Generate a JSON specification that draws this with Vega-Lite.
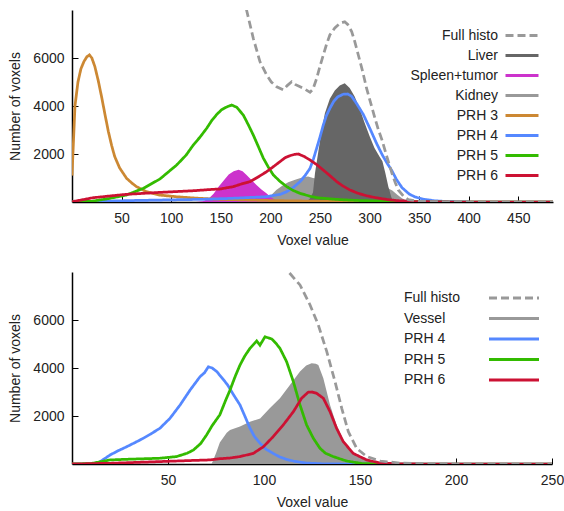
{
  "$schema": "https://vega.github.io/schema/vega-lite/v6.json",
  "padding": {"left": 8, "top": 10, "right": 5, "bottom": 5},
  "spacing": 25,
  "datasets": {
    "top": [
      {"s":"Kidney","x":190,"y":0},{"s":"Kidney","x":196,"y":100},{"s":"Kidney","x":200,"y":250},{"s":"Kidney","x":206,"y":500},{"s":"Kidney","x":212,"y":680},{"s":"Kidney","x":218,"y":820},{"s":"Kidney","x":225,"y":930},{"s":"Kidney","x":232,"y":1020},{"s":"Kidney","x":238,"y":1060},{"s":"Kidney","x":243,"y":1000},{"s":"Kidney","x":250,"y":950},{"s":"Kidney","x":260,"y":900},{"s":"Kidney","x":270,"y":850},{"s":"Kidney","x":280,"y":800},{"s":"Kidney","x":290,"y":750},{"s":"Kidney","x":300,"y":700},{"s":"Kidney","x":310,"y":640},{"s":"Kidney","x":318,"y":580},{"s":"Kidney","x":323,"y":480},{"s":"Kidney","x":328,"y":300},{"s":"Kidney","x":333,"y":150},{"s":"Kidney","x":340,"y":30},{"s":"Kidney","x":345,"y":0},
      {"s":"Spleen+tumor","x":125,"y":0},{"s":"Spleen+tumor","x":132,"y":30},{"s":"Spleen+tumor","x":138,"y":150},{"s":"Spleen+tumor","x":143,"y":350},{"s":"Spleen+tumor","x":148,"y":650},{"s":"Spleen+tumor","x":153,"y":900},{"s":"Spleen+tumor","x":158,"y":1150},{"s":"Spleen+tumor","x":163,"y":1280},{"s":"Spleen+tumor","x":168,"y":1340},{"s":"Spleen+tumor","x":172,"y":1280},{"s":"Spleen+tumor","x":176,"y":1130},{"s":"Spleen+tumor","x":181,"y":920},{"s":"Spleen+tumor","x":186,"y":710},{"s":"Spleen+tumor","x":191,"y":520},{"s":"Spleen+tumor","x":196,"y":360},{"s":"Spleen+tumor","x":201,"y":190},{"s":"Spleen+tumor","x":206,"y":60},{"s":"Spleen+tumor","x":210,"y":0},
      {"s":"Liver","x":236,"y":0},{"s":"Liver","x":240,"y":150},{"s":"Liver","x":243,"y":400},{"s":"Liver","x":245,"y":1200},{"s":"Liver","x":248,"y":2000},{"s":"Liver","x":251,"y":2800},{"s":"Liver","x":255,"y":3700},{"s":"Liver","x":260,"y":4300},{"s":"Liver","x":265,"y":4650},{"s":"Liver","x":270,"y":4850},{"s":"Liver","x":275,"y":4950},{"s":"Liver","x":280,"y":4750},{"s":"Liver","x":285,"y":4400},{"s":"Liver","x":290,"y":3900},{"s":"Liver","x":295,"y":3300},{"s":"Liver","x":300,"y":2750},{"s":"Liver","x":305,"y":2250},{"s":"Liver","x":310,"y":1900},{"s":"Liver","x":313,"y":1700},{"s":"Liver","x":316,"y":1200},{"s":"Liver","x":319,"y":640},{"s":"Liver","x":322,"y":200},{"s":"Liver","x":324,"y":0},
      {"s":"PRH 3","x":0,"y":1100},{"s":"PRH 3","x":3,"y":4000},{"s":"PRH 3","x":6,"y":5000},{"s":"PRH 3","x":9,"y":5550},{"s":"PRH 3","x":12,"y":5850},{"s":"PRH 3","x":15,"y":6050},{"s":"PRH 3","x":17.5,"y":6130},{"s":"PRH 3","x":20,"y":6000},{"s":"PRH 3","x":23,"y":5650},{"s":"PRH 3","x":26.5,"y":5050},{"s":"PRH 3","x":30,"y":4350},{"s":"PRH 3","x":33,"y":3700},{"s":"PRH 3","x":36.6,"y":2950},{"s":"PRH 3","x":40,"y":2350},{"s":"PRH 3","x":43,"y":1900},{"s":"PRH 3","x":48,"y":1420},{"s":"PRH 3","x":55,"y":990},{"s":"PRH 3","x":60,"y":800},{"s":"PRH 3","x":65,"y":640},{"s":"PRH 3","x":75,"y":430},{"s":"PRH 3","x":88,"y":290},{"s":"PRH 3","x":105,"y":220},{"s":"PRH 3","x":125,"y":160},{"s":"PRH 3","x":150,"y":110},{"s":"PRH 3","x":200,"y":60},{"s":"PRH 3","x":270,"y":20},{"s":"PRH 3","x":300,"y":0},{"s":"PRH 3","x":485,"y":0},
      {"s":"PRH 4","x":0,"y":0},{"s":"PRH 4","x":30,"y":30},{"s":"PRH 4","x":60,"y":60},{"s":"PRH 4","x":100,"y":90},{"s":"PRH 4","x":130,"y":110},{"s":"PRH 4","x":160,"y":150},{"s":"PRH 4","x":196,"y":220},{"s":"PRH 4","x":210,"y":320},{"s":"PRH 4","x":216.5,"y":430},{"s":"PRH 4","x":223,"y":600},{"s":"PRH 4","x":230,"y":850},{"s":"PRH 4","x":235,"y":1100},{"s":"PRH 4","x":240,"y":1400},{"s":"PRH 4","x":243.5,"y":1800},{"s":"PRH 4","x":246.7,"y":2240},{"s":"PRH 4","x":250,"y":2700},{"s":"PRH 4","x":253.4,"y":3210},{"s":"PRH 4","x":256.5,"y":3600},{"s":"PRH 4","x":260,"y":3900},{"s":"PRH 4","x":264,"y":4200},{"s":"PRH 4","x":268,"y":4380},{"s":"PRH 4","x":273.5,"y":4490},{"s":"PRH 4","x":278,"y":4500},{"s":"PRH 4","x":282,"y":4400},{"s":"PRH 4","x":287,"y":4100},{"s":"PRH 4","x":293.7,"y":3650},{"s":"PRH 4","x":300.5,"y":3050},{"s":"PRH 4","x":307,"y":2450},{"s":"PRH 4","x":313,"y":1950},{"s":"PRH 4","x":318,"y":1600},{"s":"PRH 4","x":322.6,"y":1300},{"s":"PRH 4","x":327,"y":950},{"s":"PRH 4","x":332.7,"y":600},{"s":"PRH 4","x":340,"y":330},{"s":"PRH 4","x":346,"y":210},{"s":"PRH 4","x":355,"y":110},{"s":"PRH 4","x":366,"y":50},{"s":"PRH 4","x":380,"y":15},{"s":"PRH 4","x":400,"y":0},{"s":"PRH 4","x":485,"y":0},
      {"s":"PRH 5","x":0,"y":0},{"s":"PRH 5","x":20,"y":30},{"s":"PRH 5","x":38,"y":150},{"s":"PRH 5","x":55,"y":290},{"s":"PRH 5","x":72,"y":570},{"s":"PRH 5","x":88.7,"y":960},{"s":"PRH 5","x":105.5,"y":1540},{"s":"PRH 5","x":115,"y":1950},{"s":"PRH 5","x":122.3,"y":2375},{"s":"PRH 5","x":129,"y":2700},{"s":"PRH 5","x":135.8,"y":3070},{"s":"PRH 5","x":141,"y":3400},{"s":"PRH 5","x":146,"y":3650},{"s":"PRH 5","x":151,"y":3850},{"s":"PRH 5","x":156,"y":3960},{"s":"PRH 5","x":161,"y":4040},{"s":"PRH 5","x":166,"y":3950},{"s":"PRH 5","x":172.7,"y":3625},{"s":"PRH 5","x":178,"y":3200},{"s":"PRH 5","x":182.8,"y":2790},{"s":"PRH 5","x":188,"y":2300},{"s":"PRH 5","x":193,"y":1820},{"s":"PRH 5","x":198,"y":1450},{"s":"PRH 5","x":203,"y":1125},{"s":"PRH 5","x":210,"y":850},{"s":"PRH 5","x":216.5,"y":640},{"s":"PRH 5","x":223,"y":480},{"s":"PRH 5","x":230,"y":360},{"s":"PRH 5","x":240,"y":240},{"s":"PRH 5","x":246.7,"y":180},{"s":"PRH 5","x":260,"y":130},{"s":"PRH 5","x":270,"y":100},{"s":"PRH 5","x":290,"y":60},{"s":"PRH 5","x":320,"y":30},{"s":"PRH 5","x":350,"y":10},{"s":"PRH 5","x":380,"y":0},{"s":"PRH 5","x":485,"y":0},
      {"s":"PRH 6","x":0,"y":10},{"s":"PRH 6","x":21.5,"y":180},{"s":"PRH 6","x":55,"y":320},{"s":"PRH 6","x":88.7,"y":400},{"s":"PRH 6","x":122.3,"y":470},{"s":"PRH 6","x":143,"y":530},{"s":"PRH 6","x":149,"y":540},{"s":"PRH 6","x":162.6,"y":640},{"s":"PRH 6","x":170,"y":740},{"s":"PRH 6","x":179.5,"y":850},{"s":"PRH 6","x":188,"y":1050},{"s":"PRH 6","x":196.3,"y":1265},{"s":"PRH 6","x":203,"y":1470},{"s":"PRH 6","x":209.7,"y":1680},{"s":"PRH 6","x":215,"y":1850},{"s":"PRH 6","x":219.8,"y":1930},{"s":"PRH 6","x":224,"y":1980},{"s":"PRH 6","x":228.2,"y":2000},{"s":"PRH 6","x":234,"y":1900},{"s":"PRH 6","x":240,"y":1750},{"s":"PRH 6","x":247,"y":1550},{"s":"PRH 6","x":253.4,"y":1330},{"s":"PRH 6","x":260,"y":1100},{"s":"PRH 6","x":266.9,"y":850},{"s":"PRH 6","x":273,"y":670},{"s":"PRH 6","x":280.3,"y":500},{"s":"PRH 6","x":288,"y":370},{"s":"PRH 6","x":297,"y":260},{"s":"PRH 6","x":305,"y":190},{"s":"PRH 6","x":310.5,"y":150},{"s":"PRH 6","x":320,"y":90},{"s":"PRH 6","x":330,"y":50},{"s":"PRH 6","x":345,"y":20},{"s":"PRH 6","x":360,"y":10},{"s":"PRH 6","x":380,"y":0},{"s":"PRH 6","x":485,"y":0},
      {"s":"Full histo","x":165,"y":10500},{"s":"Full histo","x":176,"y":8000},{"s":"Full histo","x":182.8,"y":6820},{"s":"Full histo","x":189.5,"y":5850},{"s":"Full histo","x":196.3,"y":5290},{"s":"Full histo","x":201,"y":5000},{"s":"Full histo","x":206.4,"y":4800},{"s":"Full histo","x":213,"y":4670},{"s":"Full histo","x":217,"y":4850},{"s":"Full histo","x":221.5,"y":5010},{"s":"Full histo","x":225,"y":4900},{"s":"Full histo","x":230,"y":4800},{"s":"Full histo","x":235,"y":4700},{"s":"Full histo","x":240,"y":4570},{"s":"Full histo","x":243,"y":4700},{"s":"Full histo","x":246.7,"y":5150},{"s":"Full histo","x":250,"y":5650},{"s":"Full histo","x":253.4,"y":6125},{"s":"Full histo","x":256.5,"y":6550},{"s":"Full histo","x":260,"y":6960},{"s":"Full histo","x":265,"y":7250},{"s":"Full histo","x":270,"y":7440},{"s":"Full histo","x":275,"y":7510},{"s":"Full histo","x":278,"y":7400},{"s":"Full histo","x":282,"y":7100},{"s":"Full histo","x":285,"y":6700},{"s":"Full histo","x":288.7,"y":6125},{"s":"Full histo","x":293,"y":5450},{"s":"Full histo","x":297,"y":4740},{"s":"Full histo","x":301,"y":4150},{"s":"Full histo","x":305.5,"y":3490},{"s":"Full histo","x":309,"y":3000},{"s":"Full histo","x":312.6,"y":2580},{"s":"Full histo","x":317,"y":1950},{"s":"Full histo","x":322.6,"y":1200},{"s":"Full histo","x":326,"y":800},{"s":"Full histo","x":329,"y":500},{"s":"Full histo","x":334,"y":250},{"s":"Full histo","x":339,"y":100},{"s":"Full histo","x":350,"y":30},{"s":"Full histo","x":370,"y":10},{"s":"Full histo","x":400,"y":0},{"s":"Full histo","x":485,"y":0}
    ],
    "bottom": [
      {"s":"Vessel","x":72.7,"y":0},{"s":"Vessel","x":75,"y":450},{"s":"Vessel","x":77,"y":900},{"s":"Vessel","x":80.6,"y":1300},{"s":"Vessel","x":82.3,"y":1420},{"s":"Vessel","x":87.5,"y":1560},{"s":"Vessel","x":92.7,"y":1760},{"s":"Vessel","x":98,"y":1900},{"s":"Vessel","x":103,"y":2320},{"s":"Vessel","x":108.3,"y":2740},{"s":"Vessel","x":113.5,"y":3290},{"s":"Vessel","x":118.75,"y":3850},{"s":"Vessel","x":122,"y":4100},{"s":"Vessel","x":124.8,"y":4200},{"s":"Vessel","x":127,"y":4180},{"s":"Vessel","x":128.3,"y":4125},{"s":"Vessel","x":130.9,"y":3570},{"s":"Vessel","x":134.4,"y":2460},{"s":"Vessel","x":137.8,"y":1625},{"s":"Vessel","x":141.3,"y":1000},{"s":"Vessel","x":146.5,"y":480},{"s":"Vessel","x":153.5,"y":180},{"s":"Vessel","x":160,"y":30},{"s":"Vessel","x":165,"y":0},
      {"s":"PRH 4","x":0,"y":0},{"s":"PRH 4","x":10,"y":0},{"s":"PRH 4","x":14,"y":60},{"s":"PRH 4","x":19.8,"y":375},{"s":"PRH 4","x":24,"y":550},{"s":"PRH 4","x":28.5,"y":720},{"s":"PRH 4","x":33,"y":900},{"s":"PRH 4","x":37.1,"y":1070},{"s":"PRH 4","x":41,"y":1250},{"s":"PRH 4","x":45.8,"y":1490},{"s":"PRH 4","x":51,"y":1900},{"s":"PRH 4","x":56.3,"y":2460},{"s":"PRH 4","x":61.5,"y":3080},{"s":"PRH 4","x":64,"y":3350},{"s":"PRH 4","x":66.7,"y":3640},{"s":"PRH 4","x":69,"y":3800},{"s":"PRH 4","x":71,"y":4050},{"s":"PRH 4","x":73,"y":4000},{"s":"PRH 4","x":75.4,"y":3850},{"s":"PRH 4","x":78,"y":3600},{"s":"PRH 4","x":81,"y":3300},{"s":"PRH 4","x":84,"y":2900},{"s":"PRH 4","x":87.5,"y":2460},{"s":"PRH 4","x":90,"y":2000},{"s":"PRH 4","x":92.7,"y":1490},{"s":"PRH 4","x":95,"y":1150},{"s":"PRH 4","x":98,"y":860},{"s":"PRH 4","x":101,"y":620},{"s":"PRH 4","x":104.8,"y":440},{"s":"PRH 4","x":108,"y":300},{"s":"PRH 4","x":111.8,"y":190},{"s":"PRH 4","x":116,"y":110},{"s":"PRH 4","x":122,"y":40},{"s":"PRH 4","x":130,"y":10},{"s":"PRH 4","x":140,"y":0},{"s":"PRH 4","x":250,"y":0},
      {"s":"PRH 5","x":0,"y":0},{"s":"PRH 5","x":10,"y":20},{"s":"PRH 5","x":19.8,"y":170},{"s":"PRH 5","x":30,"y":200},{"s":"PRH 5","x":45.8,"y":240},{"s":"PRH 5","x":54.5,"y":310},{"s":"PRH 5","x":60,"y":450},{"s":"PRH 5","x":63.2,"y":580},{"s":"PRH 5","x":67,"y":850},{"s":"PRH 5","x":70.1,"y":1210},{"s":"PRH 5","x":73,"y":1600},{"s":"PRH 5","x":77,"y":2050},{"s":"PRH 5","x":80,"y":2650},{"s":"PRH 5","x":82.3,"y":3080},{"s":"PRH 5","x":85,"y":3650},{"s":"PRH 5","x":87.5,"y":4125},{"s":"PRH 5","x":90,"y":4500},{"s":"PRH 5","x":92.7,"y":4820},{"s":"PRH 5","x":96.2,"y":5125},{"s":"PRH 5","x":97.9,"y":4950},{"s":"PRH 5","x":100.5,"y":5300},{"s":"PRH 5","x":104,"y":5210},{"s":"PRH 5","x":106,"y":5050},{"s":"PRH 5","x":108.3,"y":4820},{"s":"PRH 5","x":111.8,"y":4260},{"s":"PRH 5","x":115.3,"y":3430},{"s":"PRH 5","x":118.75,"y":2460},{"s":"PRH 5","x":122.2,"y":1625},{"s":"PRH 5","x":125.7,"y":1070},{"s":"PRH 5","x":129.2,"y":650},{"s":"PRH 5","x":132,"y":450},{"s":"PRH 5","x":136,"y":310},{"s":"PRH 5","x":143,"y":125},{"s":"PRH 5","x":151,"y":20},{"s":"PRH 5","x":160,"y":0},{"s":"PRH 5","x":250,"y":0},
      {"s":"PRH 6","x":0,"y":0},{"s":"PRH 6","x":20,"y":30},{"s":"PRH 6","x":45.8,"y":100},{"s":"PRH 6","x":60,"y":140},{"s":"PRH 6","x":71.9,"y":170},{"s":"PRH 6","x":77,"y":220},{"s":"PRH 6","x":82.3,"y":250},{"s":"PRH 6","x":87.5,"y":310},{"s":"PRH 6","x":94.4,"y":440},{"s":"PRH 6","x":99.7,"y":720},{"s":"PRH 6","x":104.8,"y":1140},{"s":"PRH 6","x":110,"y":1625},{"s":"PRH 6","x":115.3,"y":2180},{"s":"PRH 6","x":119.6,"y":2740},{"s":"PRH 6","x":123,"y":2990},{"s":"PRH 6","x":125,"y":3000},{"s":"PRH 6","x":127.4,"y":2945},{"s":"PRH 6","x":130.9,"y":2740},{"s":"PRH 6","x":134.4,"y":2180},{"s":"PRH 6","x":137.8,"y":1490},{"s":"PRH 6","x":141.3,"y":930},{"s":"PRH 6","x":146.5,"y":440},{"s":"PRH 6","x":153.5,"y":170},{"s":"PRH 6","x":160,"y":50},{"s":"PRH 6","x":170,"y":10},{"s":"PRH 6","x":180,"y":0},{"s":"PRH 6","x":250,"y":0},
      {"s":"Full histo","x":105,"y":9300},{"s":"Full histo","x":112.7,"y":8010},{"s":"Full histo","x":118.75,"y":7460},{"s":"Full histo","x":124,"y":6625},{"s":"Full histo","x":128.3,"y":5790},{"s":"Full histo","x":132.7,"y":4680},{"s":"Full histo","x":137,"y":3430},{"s":"Full histo","x":140.5,"y":2320},{"s":"Full histo","x":143.9,"y":1350},{"s":"Full histo","x":148.3,"y":650},{"s":"Full histo","x":153.5,"y":310},{"s":"Full histo","x":160.5,"y":125},{"s":"Full histo","x":170.8,"y":40},{"s":"Full histo","x":185,"y":10},{"s":"Full histo","x":200,"y":0},{"s":"Full histo","x":250,"y":0}
    ]
  },
  "vconcat": [
    {
      "width": 481,
      "height": 192,
      "data": {"name": "top"},
      "encoding": {
        "x": {"field": "x", "type": "quantitative", "scale": {"domain": [0, 485], "nice": false, "zero": false},
              "axis": {"title": "Voxel value", "values": [50,100,150,200,250,300,350,400,450], "format": "d"}},
        "y": {"field": "y", "type": "quantitative", "scale": {"domain": [0, 8000], "nice": false},
              "axis": {"title": "Number of voxels", "values": [2000,4000,6000], "format": "d"}}
      },
      "layer": [
        {"transform": [{"filter": "datum.s === 'Kidney'"}], "mark": {"type": "area", "color": "#999999"}, "encoding": {}},
        {"transform": [{"filter": "datum.s === 'Spleen+tumor'"}], "mark": {"type": "area", "color": "#cc33cc"}, "encoding": {}},
        {"transform": [{"filter": "datum.s === 'Liver'"}], "mark": {"type": "area", "color": "#666666"}, "encoding": {}},
        {
          "transform": [{"filter": {"field": "s", "oneOf": ["PRH 3","PRH 4","PRH 5","PRH 6","Full histo"]}}],
          "mark": {"type": "line", "strokeWidth": 2.75, "clip": true},
          "encoding": {
            "color": {"field": "s", "type": "nominal",
              "scale": {"domain": ["Full histo","Liver","Spleen+tumor","Kidney","PRH 3","PRH 4","PRH 5","PRH 6"],
                        "range": ["#999999","#666666","#cc33cc","#999999","#cc8833","#5588ff","#33bb00","#cc1133"]},
              "legend": {"title": null, "orient": "none", "legendX": 432, "legendY": 18.5, "symbolType": "M-3,0H3", "symbolSize": 121, "symbolStrokeWidth": 3, "labelAlign": "right", "labelOffset": -31, "labelFontSize": 14, "rowPadding": 6, "padding": 0, "symbolOffset": 11}},
            "strokeDash": {"field": "s", "type": "nominal",
              "scale": {"domain": ["Full histo","Liver","Spleen+tumor","Kidney","PRH 3","PRH 4","PRH 5","PRH 6"],
                        "range": [[8,4],[1,0],[1,0],[1,0],[1,0],[1,0],[1,0],[1,0]]},
              "legend": {"title": null, "orient": "none", "legendX": 432, "legendY": 18.5, "symbolType": "M-3,0H3", "symbolSize": 121, "symbolStrokeWidth": 3, "labelAlign": "right", "labelOffset": -31, "labelFontSize": 14, "rowPadding": 6, "padding": 0, "symbolOffset": 11}}
          }
        }
      ]
    },
    {
      "width": 480,
      "height": 192,
      "data": {"name": "bottom"},
      "encoding": {
        "x": {"field": "x", "type": "quantitative", "scale": {"domain": [0, 250], "nice": false, "zero": false},
              "axis": {"title": "Voxel value", "values": [50,100,150,200,250], "format": "d"}},
        "y": {"field": "y", "type": "quantitative", "scale": {"domain": [0, 8000], "nice": false},
              "axis": {"title": "Number of voxels", "values": [2000,4000,6000], "format": "d"}}
      },
      "layer": [
        {"transform": [{"filter": "datum.s === 'Vessel'"}], "mark": {"type": "area", "color": "#999999"}, "encoding": {}},
        {
          "transform": [{"filter": {"field": "s", "oneOf": ["PRH 4","PRH 5","PRH 6","Full histo"]}}],
          "mark": {"type": "line", "strokeWidth": 2.75, "clip": true},
          "encoding": {
            "color": {"field": "s", "type": "nominal",
              "scale": {"domain": ["Full histo","Vessel","PRH 4","PRH 5","PRH 6"],
                        "range": ["#999999","#999999","#5588ff","#33bb00","#cc1133"]},
              "legend": {"title": null, "orient": "none", "legendX": 415, "legendY": 19, "symbolType": "M-5,0H5", "symbolSize": 100, "symbolStrokeWidth": 3, "labelAlign": "left", "labelOffset": -117, "labelFontSize": 14, "rowPadding": 6.5, "padding": 0, "symbolOffset": 20}},
            "strokeDash": {"field": "s", "type": "nominal",
              "scale": {"domain": ["Full histo","Vessel","PRH 4","PRH 5","PRH 6"],
                        "range": [[8,4],[1,0],[1,0],[1,0],[1,0]]},
              "legend": {"title": null, "orient": "none", "legendX": 415, "legendY": 19, "symbolType": "M-5,0H5", "symbolSize": 100, "symbolStrokeWidth": 3, "labelAlign": "left", "labelOffset": -117, "labelFontSize": 14, "rowPadding": 6.5, "padding": 0, "symbolOffset": 20}}
          }
        }
      ]
    }
  ],
  "resolve": {
    "scale": {"color": "independent", "strokeDash": "independent", "x": "independent", "y": "independent"},
    "legend": {"color": "independent", "strokeDash": "independent"}
  },
  "config": {
    "view": {"stroke": null},
    "font": "Liberation Sans",
    "axis": {"grid": false, "domainColor": "#000000", "domainWidth": 1.5, "tickColor": "#000000", "tickWidth": 1, "tickSize": -6,
             "labelFontSize": 14, "titleFontSize": 14, "labelColor": "#222222", "titleColor": "#222222", "titleFontWeight": "normal", "labelFlush": false},
    "axisY": {"titlePadding": 10, "labelPadding": 14},
    "axisX": {"titlePadding": 8, "labelPadding": 15},
    "legend": {"labelColor": "#222222", "labelFont": "Liberation Sans"}
  }
}
